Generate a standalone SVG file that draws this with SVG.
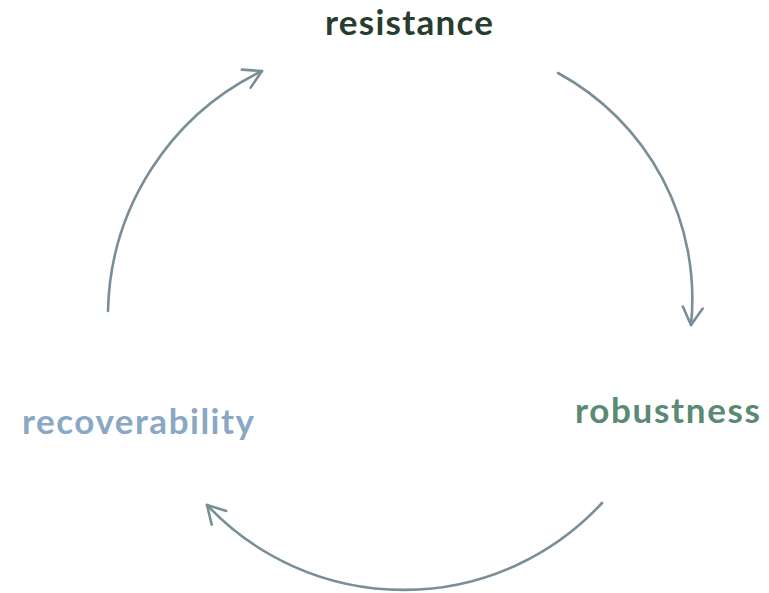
<svg xmlns="http://www.w3.org/2000/svg" width="769" height="593" viewBox="0 0 769 593">
<style>
.lbl{font-family:Lato,"Open Sans","Liberation Sans",sans-serif;font-weight:700;font-size:35px}
.arc{fill:none;stroke:#7a8e98;stroke-width:2.6;stroke-linecap:round}
</style>
<defs>
<marker id="ah" markerUnits="userSpaceOnUse" viewBox="-22 -13 26 26" refX="0" refY="0" markerWidth="26" markerHeight="26" orient="auto">
<path d="M-17.5,-10 L0,0 L-17.5,10" fill="none" stroke="#7a8e98" stroke-width="2.6" stroke-linecap="round" stroke-linejoin="round"/>
</marker>
</defs>
<rect width="769" height="593" fill="#ffffff"/>
<g id="connectors">
<path class="arc" d="M108,311 A273,273 0 0 1 262,71" marker-end="url(#ah)"/>
<path class="arc" d="M558,73 A257,257 0 0 1 691,325" marker-end="url(#ah)"/>
<path class="arc" d="M602,503 A270,270 0 0 1 207,505" marker-end="url(#ah)"/>
</g>
<g id="resistance"><text class="lbl" x="409" y="35" text-anchor="middle" fill="#273e2f" textLength="168" lengthAdjust="spacing">resistance</text></g>
<g id="robustness"><text class="lbl" x="667.5" y="423" text-anchor="middle" fill="#5a8a73" textLength="185" lengthAdjust="spacing">robustness</text></g>
<g id="recoverability"><text class="lbl" x="138" y="434" text-anchor="middle" fill="#8aa8c3" textLength="232" lengthAdjust="spacing">recoverability</text></g>
</svg>
